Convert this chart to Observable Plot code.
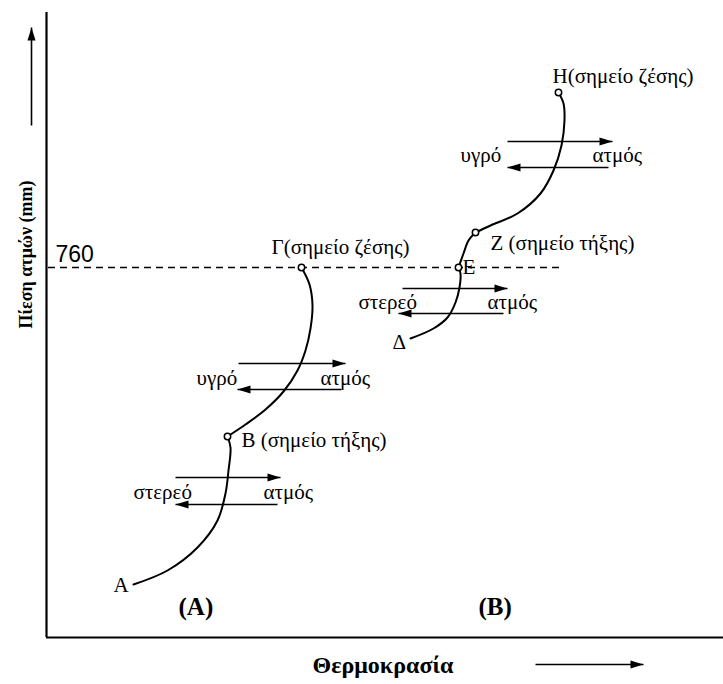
<!DOCTYPE html>
<html>
<head>
<meta charset="utf-8">
<script src="https://cdn.jsdelivr.net/npm/d3@7"></script>
<script src="https://cdn.jsdelivr.net/npm/@observablehq/plot@0.6"></script>
<style>
  html, body { margin: 0; padding: 0; background: #fff; }
  svg { display: block; }
</style>
</head>
<body>
<div id="chart"></div>
<script>
// Schematic units: T = temperature (arbitrary), P = vapour pressure (arbitrary)
const curveAB = [[87,53],[121,67],[151,90],[171,117],[179,144],[182,167],[184,190],[181,201]];
const curveBG = [[181,201],[199,213],[219,228],[237,246],[251,267],[259,287],[264,309],[266,332],[263,353],[255,370]];
const curveDE = [[364,299],[387,309],[401,320],[409,335],[413,350],[414,364],[412,370]];
const curveEZ = [[412,370],[417,384],[422,397],[429,405]];
const curveZH = [[429,405],[444,412],[471,424],[494,444],[507,467],[515,492],[518,517],[517,534],[512,545]];

const points = [[181,201],[255,370],[412,370],[429,405],[512,545]];

const boilingPressure = 370;   // 760 mm
const boilingLineEnd = 517;

// equilibrium arrows: [T from, T to, P]
const arrowsEq = [
  [129,234,160],[231,129,133],
  [192,299,274],[295,191,248],
  [356,461,349],[457,352,324],
  [461,566,496],[562,461,470]
];
// axis direction arrows: [T1, P1, T2, P2]
const axisArrows = [[-15,512,-15,610],[489,-27,597,-27]];

const pointLabels = [
  ["Α",67,52],["Β (σημείο τήξης)",195,197],["Γ(σημείο ζέσης)",225,390],
  ["Δ",346,295],["Ε",416,370],["Ζ (σημείο τήξης)",444,394],["Η(σημείο ζέσης)",506,561]
];
const phaseLabels = [
  ["υγρό",150,259],["ατμός",274,259],
  ["στερεό",87,145],["ατμός",217,145],
  ["στερεό",312,335],["ατμός",441,335],
  ["υγρό",414,482],["ατμός",546,482]
];
const panelLabels = [["(A)",132,31],["(B)",432,31]];
const pressureTick = ["760",9,383];
const xTitle = ["Θερμοκρασία",266,-28];
const yTitle = ["Πίεση ατμών (mm)",-20,383];

const head = { draw(ctx) { ctx.moveTo(0,0); ctx.lineTo(-13,-4); ctx.lineTo(-13,4); ctx.closePath(); } };

const toObj = a => a.map(([t,p]) => ({t,p}));
const curveMark = pts => Plot.line(toObj(pts), {x:"t", y:"p", curve:"catmull-rom", stroke:"black", strokeWidth:2});

const arrowData = arrowsEq.map(([t1,t2,p]) => ({t1,t2,p1:p,p2:p}))
  .concat(axisArrows.map(([t1,p1,t2,p2]) => ({t1,t2,p1,p2})));
const angle = d => d.p1 === d.p2 ? (d.t2 > d.t1 ? 0 : 180) : (d.p2 > d.p1 ? -90 : 90);

const serif = "Liberation Serif, Times New Roman, serif";

const chart = Plot.plot({
  width: 723, height: 684,
  marginLeft: 46, marginRight: 0, marginTop: 12, marginBottom: 47,
  x: {domain: [0, 677], axis: null},
  y: {domain: [0, 625], axis: null},
  style: {background: "white", color: "black"},
  marks: [
    Plot.ruleX([0], {y1: 0, y2: 625, stroke: "black", strokeWidth: 2.2}),
    Plot.ruleY([0], {x1: 0, x2: 677, stroke: "black", strokeWidth: 2.2}),
    Plot.ruleY([boilingPressure], {x1: 2, x2: boilingLineEnd, stroke: "black", strokeWidth: 1.6, strokeDasharray: "7,5"}),
    curveMark(curveAB), curveMark(curveBG), curveMark(curveDE), curveMark(curveEZ), curveMark(curveZH),
    Plot.link(arrowData, {x1:"t1", y1:"p1", x2:"t2", y2:"p2", stroke:"black", strokeWidth:1.6}),
    Plot.dot(arrowData, {x:"t2", y:"p2", symbol: head, r: 4, fill:"black", stroke:"none", rotate: angle}),
    Plot.dot(toObj(points), {x:"t", y:"p", r: 3.2, fill:"white", stroke:"black", strokeWidth:1.5}),
    Plot.text(pointLabels, {x: d=>d[1], y: d=>d[2], text: d=>d[0], textAnchor:"start", lineAnchor:"middle", fontFamily: serif, fontSize: 21, fill:"black"}),
    Plot.text(phaseLabels, {x: d=>d[1], y: d=>d[2], text: d=>d[0], textAnchor:"start", lineAnchor:"middle", fontFamily: serif, fontSize: 21, fill:"black"}),
    Plot.text(panelLabels, {x: d=>d[1], y: d=>d[2], text: d=>d[0], textAnchor:"start", lineAnchor:"middle", fontFamily: serif, fontSize: 25, fontWeight:"bold", fill:"black"}),
    Plot.text([pressureTick], {x: d=>d[1], y: d=>d[2], text: d=>d[0], textAnchor:"start", lineAnchor:"middle", fontFamily: "Liberation Sans, Arial, sans-serif", fontSize: 23, fill:"black"}),
    Plot.text([xTitle], {x: d=>d[1], y: d=>d[2], text: d=>d[0], textAnchor:"start", lineAnchor:"middle", fontFamily: serif, fontSize: 24, fontWeight:"bold", fill:"black"}),
    Plot.text([yTitle], {x: d=>d[1], y: d=>d[2], text: d=>d[0], textAnchor:"middle", lineAnchor:"middle", rotate: -90, fontFamily: serif, fontSize: 18, fontWeight:"bold", fill:"black"})
  ]
});
document.getElementById("chart").appendChild(chart);
</script>
</body>
</html>
